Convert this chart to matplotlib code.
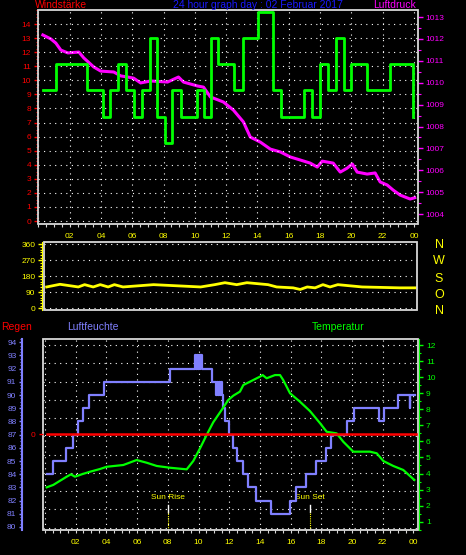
import matplotlib
matplotlib.use('Agg')
import matplotlib.pyplot as plt
import matplotlib.transforms as mtransforms
from matplotlib.patches import Rectangle
from matplotlib.ticker import MultipleLocator

plt.rcParams['font.family'] = ['Liberation Sans', 'DejaVu Sans']

# --- Windstaerke (step line), hours / value
wind_t = [0.26, 1.1, 3.1, 4.1, 4.6, 5.1, 5.6, 6.1, 6.6, 7.1, 7.6, 8.1, 8.55, 9.1, 10.15,
          10.6, 11.05, 11.5, 12.5, 13.05, 14.05, 15.0, 15.5, 17.0, 17.5, 18.0, 18.5,
          19.05, 19.55, 20.0, 21.0, 22.5, 23.97]
wind_v = [9.29, 11.14, 9.29, 7.43, 9.29, 11.14, 9.29, 7.43, 9.29, 13.0, 7.43, 5.57,
          9.29, 7.43, 9.29, 7.43, 13.0, 11.14, 9.29, 13.0, 14.86, 9.29, 7.43, 9.29,
          7.43, 11.14, 9.29, 13.0, 9.29, 11.14, 9.29, 11.14, 7.43]

# --- Luftdruck (hPa)
pres_t = [0.28, 0.79, 1.11, 1.43, 1.88, 2.58, 2.90, 3.53, 3.98, 4.81, 5.26, 5.70, 6.08,
          6.53, 7.17, 8.25, 8.95, 9.27, 10.17, 10.55, 10.99, 11.82, 12.46, 13.10, 13.54,
          14.18, 14.82, 15.46, 16.10, 16.74, 17.37, 17.82, 18.14, 18.84, 19.29, 19.73,
          20.06, 20.37, 21.01, 21.52, 21.84, 22.29, 22.67, 23.12, 23.76, 24.05]
pres_v = [1012.18, 1012.0, 1011.81, 1011.49, 1011.36, 1011.40, 1011.13, 1010.72, 1010.53,
          1010.49, 1010.31, 1010.26, 1010.21, 1009.99, 1010.08, 1010.03, 1010.26, 1010.03,
          1009.85, 1009.80, 1009.35, 1009.12, 1008.75, 1008.21, 1007.52, 1007.29, 1006.97,
          1006.84, 1006.61, 1006.47, 1006.33, 1006.15, 1006.42, 1006.33, 1005.92, 1006.10,
          1006.29, 1005.92, 1005.83, 1005.88, 1005.47, 1005.33, 1005.10, 1004.87, 1004.69,
          1004.75]

# --- Windrichtung (deg)
dir_t = [0.58, 1.43, 2.6, 3.0, 3.55, 4.0, 4.5, 4.9, 5.45, 7.4, 10.4, 11.3, 11.95, 12.7,
         13.35, 14.7, 15.25, 16.3, 16.75, 17.2, 17.7, 18.2, 18.65, 19.15, 20.7, 23.1, 24.1]
dir_v = [120, 135, 120, 133, 120, 133, 120, 133, 120, 133, 120, 133, 144, 133, 144, 133,
         120, 115, 106, 120, 115, 133, 120, 133, 120, 115, 115]

# --- Luftfeuchte (%), step
hum_t = [0.11, 0.54, 1.37, 1.80, 2.13, 2.46, 2.87, 3.86, 8.14, 9.77, 9.83, 9.89, 9.95,
         10.01, 10.07, 10.13, 10.21, 10.86, 11.14, 11.2, 11.26, 11.32, 11.38, 11.44, 11.5,
         11.6, 11.73, 12.0, 12.23, 12.5, 12.88, 13.22, 13.73, 14.7, 15.96, 16.35, 17.0,
         17.65, 18.29, 18.65, 19.66, 20.15, 21.76, 22.08, 23.02, 23.75, 23.8, 24.1]
hum_v = [84, 85, 86, 87, 88, 89, 90, 91, 92, 93, 92, 93, 92, 93, 92, 93, 92, 91, 90, 91,
         90, 91, 90, 91, 90, 89, 88, 87, 86, 85, 84, 83, 82, 81, 82, 83, 84, 85, 86, 87,
         88, 89, 88, 89, 90, 89, 90, 90]

# --- Temperatur (C)
temp_t = [0.11, 0.54, 0.98, 1.41, 1.69, 1.95, 2.39, 2.93, 3.58, 4.02, 5.10, 5.97, 6.63,
          7.28, 8.14, 9.23, 9.66, 10.10, 10.53, 10.96, 11.51, 11.94, 12.27, 12.70, 12.92,
          14.0, 14.18, 14.44, 14.98, 15.31, 15.52, 15.96, 16.61, 17.26, 17.92, 18.35, 19.0,
          19.43, 20.08, 21.17, 21.61, 22.04, 22.69, 23.34, 24.06]
temp_v = [3.14, 3.29, 3.55, 3.80, 3.95, 3.80, 3.95, 4.11, 4.28, 4.42, 4.53, 4.84, 4.67,
          4.47, 4.36, 4.26, 4.78, 5.57, 6.40, 7.19, 7.96, 8.58, 8.85, 9.10, 9.51, 10.03,
          10.13, 9.93, 10.13, 10.13, 9.82, 9.0, 8.47, 7.89, 7.13, 6.60, 6.50, 5.98, 5.36,
          5.36, 5.26, 4.78, 4.47, 4.22, 3.60]

# --- Regen
rain_t = [0.11, 24.15]
rain_v = [0, 0]

sun_rise = 8.03
sun_set = 17.26

hour_ticks = list(range(0, 25, 2))
hour_labels = [''] + ['%02d' % (h % 24) for h in hour_ticks[1:]]

FRAME = '#d8d8d8'
GRID = dict(color='white', linestyle=(0, (1, 4)), linewidth=0.8)
W, H = 466, 555


def box(l, t, r, b):
    return [l / W, 1 - b / H, (r - l) / W, (b - t) / H]


def frame(ax):
    for s in ax.spines.values():
        s.set_visible(False)
    ax.add_patch(Rectangle((0, 0), 1, 1, transform=ax.transAxes, fill=False,
                           edgecolor=FRAME, linewidth=1.3, clip_on=False, zorder=5))


fig = plt.figure(figsize=(4.66, 5.55), dpi=100, facecolor='black')

# ================= top panel: Windstaerke + Luftdruck
ax1 = fig.add_axes(box(38, 10, 418, 224))
ax1b = ax1.twinx()
ax1.set_zorder(ax1b.get_zorder() + 1)
ax1.patch.set_visible(False)
ax1b.patch.set_facecolor('black')
frame(ax1)
for s in ax1b.spines.values():
    s.set_visible(False)

ax1b.plot(pres_t, pres_v, color='#ff00ff', linewidth=2.2)
ax1.step(wind_t, wind_v, where='post', color='#00ff00', linewidth=2)

ax1.set_xlim(-0.03, 24.26)
ax1.set_ylim(-0.21, 15.0)
ax1.set_yticks(range(15))
ax1.yaxis.set_minor_locator(MultipleLocator(0.25))
ax1.tick_params(axis='y', which='major', colors='red', labelsize=6, length=3, width=1, pad=2)
ax1.tick_params(axis='y', which='minor', colors='red', length=1.5, width=0.8)
ax1.set_xticks(hour_ticks)
ax1.set_xticklabels(hour_labels)
ax1.xaxis.set_minor_locator(MultipleLocator(0.5))
ax1.tick_params(axis='x', which='both', color=FRAME, labelcolor='yellow', labelsize=6,
                length=2.5, width=0.8, pad=4)
ax1.grid(True, **GRID)

ax1b.set_ylim(1003.55, 1013.32)
ax1b.set_yticks(range(1004, 1014))
ax1b.yaxis.set_minor_locator(MultipleLocator(0.5))
ax1b.tick_params(axis='y', which='major', colors='#ff00ff', labelsize=6, length=3.5, width=1, pad=2)
ax1b.tick_params(axis='y', which='minor', colors='#ff00ff', length=2, width=0.8)

fig.text(35 / W, 1 - 5 / H, 'Windstärke', color='red', fontsize=7.5, va='center')
fig.text(258 / W, 1 - 5 / H, '24 hour graph day : 02 Februar 2017', color='#1a1aff',
         fontsize=7.5, va='center', ha='center')
fig.text(416 / W, 1 - 5 / H, 'Luftdruck', color='#ff00ff', fontsize=7.5, va='center', ha='right')

# ================= middle panel: Windrichtung
ax2 = fig.add_axes(box(44.3, 241.7, 416.7, 310))
ax2.set_facecolor('black')
frame(ax2)
ax2.spines['left'].set_visible(True)
ax2.spines['left'].set_color('yellow')
ax2.spines['left'].set_position(('outward', 1.5))
ax2.plot(dir_t, dir_v, color='yellow', linewidth=2)
ax2.set_xlim(0.43, 24.18)
ax2.set_ylim(-9.6, 374.6)
ax2.set_yticks(range(0, 361, 90))
ax2.yaxis.set_minor_locator(MultipleLocator(15))
ax2.tick_params(axis='y', which='major', colors='yellow', labelsize=6, length=3, width=1, pad=2)
ax2.tick_params(axis='y', which='minor', colors='yellow', length=1.5, width=0.8)
ax2.set_xticks([])
ax2.grid(True, axis='y', **GRID)
compass = ['N', 'W', 'S', 'O', 'N']
compass_y = [358, 268, 167, 75, -13]
tr = mtransforms.blended_transform_factory(ax2.transAxes, ax2.transData)
for c, y in zip(compass, compass_y):
    ax2.text(1.06, y, c, color='yellow', fontsize=9, va='center', ha='center',
             transform=tr, clip_on=False)

# ================= bottom panel: Regen, Luftfeuchte, Temperatur
ax3 = fig.add_axes(box(42.7, 339, 417.7, 530))
ax3.set_facecolor('black')
frame(ax3)
ax3.set_xlim(-0.15, 24.28)
ax3.set_ylim(-0.126, 10.33)
ax3.set_yticks(range(11))
ax3.tick_params(axis='y', which='both', left=False, labelleft=False)
ax3.set_xticks(hour_ticks)
ax3.set_xticklabels(hour_labels)
ax3.xaxis.set_minor_locator(MultipleLocator(0.5))
ax3.tick_params(axis='x', which='both', color=FRAME, labelcolor='yellow', labelsize=6,
                length=2.5, width=0.8, pad=4)
ax3.grid(True, **GRID)

trs = mtransforms.blended_transform_factory(ax3.transData, ax3.transAxes)
for t, name in [(sun_rise, 'Sun Rise'), (sun_set, 'Sun Set')]:
    ax3.text(t, 0.169, name, color='yellow', fontsize=6, ha='center', va='center', transform=trs)
    ax3.plot([t, t], [0.094, 0.131], color='white', linewidth=1, transform=trs)
    ax3.plot([t, t], [0.0, 0.094], color='yellow', linewidth=0.8, linestyle=(0, (1, 1)),
             transform=trs)

# humidity
ax3h = ax3.twinx()
for s in ax3h.spines.values():
    s.set_visible(False)
ax3h.yaxis.tick_left()
ax3h.spines['left'].set_visible(True)
ax3h.spines['left'].set_color('#8080ff')
ax3h.spines['left'].set_linewidth(1.5)
ax3h.spines['left'].set_position(('outward', 14.9))
ax3h.step(hum_t, hum_v, where='post', color='#8080ff', linewidth=1.6)
ax3h.set_ylim(79.77, 94.25)
ax3h.set_yticks(range(80, 95))
ax3h.yaxis.set_minor_locator(MultipleLocator(0.25))
ax3h.tick_params(axis='y', which='major', colors='#8080ff', labelsize=6, length=2.5, width=1, pad=1.5)
ax3h.tick_params(axis='y', which='minor', colors='#8080ff', length=1.2, width=0.8)

# temperature
ax3t = ax3.twinx()
for s in ax3t.spines.values():
    s.set_visible(False)
ax3t.spines['right'].set_visible(True)
ax3t.spines['right'].set_color('#00ff00')
ax3t.spines['right'].set_position(('outward', 1))
ax3t.plot(temp_t, temp_v, color='#00ff00', linewidth=1.6)
ax3t.set_ylim(0.483, 12.376)
ax3t.set_yticks(range(1, 13))
ax3t.yaxis.set_minor_locator(MultipleLocator(0.5))
ax3t.tick_params(axis='y', which='major', colors='#00ff00', labelsize=6, length=3, width=1, pad=2)
ax3t.tick_params(axis='y', which='minor', colors='#00ff00', length=1.5, width=0.8)

# rain
ax3r = ax3.twinx()
for s in ax3r.spines.values():
    s.set_visible(False)
ax3r.yaxis.tick_left()
ax3r.plot(rain_t, rain_v, color='red', linewidth=1.8)
ax3r.set_ylim(-1.005, 0.995)
ax3r.set_yticks([0])
ax3r.tick_params(axis='y', colors='red', labelsize=6, length=3, width=1, pad=2)

fig.text(1 / W, 1 - 327 / H, 'Regen', color='red', fontsize=7.5, va='center')
fig.text(67 / W, 1 - 327 / H, 'Luftfeuchte', color='#8080ff', fontsize=7.5, va='center')
fig.text(312 / W, 1 - 327 / H, 'Temperatur', color='#00ff00', fontsize=7.5, va='center')

fig.savefig('out.png', dpi=100, facecolor='black')
